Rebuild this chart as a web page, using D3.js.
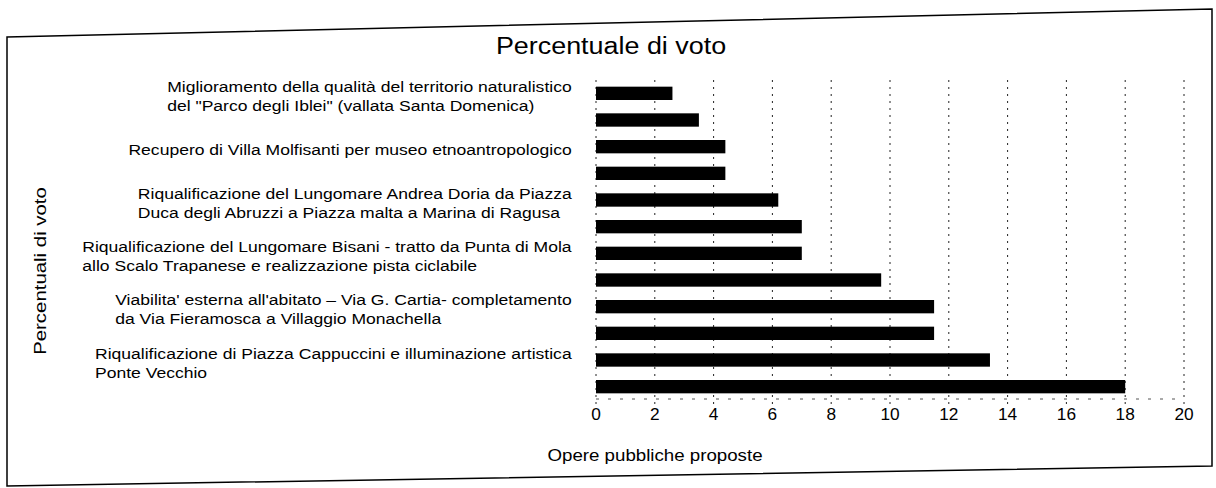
<!DOCTYPE html>
<html lang="it">
<head>
<meta charset="UTF-8">
<script src="https://d3js.org/d3.v7.min.js"></script>
<style>
  body { margin: 0; background: #fff; }
  svg text { font-family: "Liberation Sans", Arial, sans-serif; fill: #000; }
  .grid line { stroke: #222; stroke-width: 1; stroke-dasharray: 2,5; }
</style>
</head>
<body>
<svg id="chart" width="1216" height="488"></svg>
<script>
// progetti (ogni etichetta copre due barre)
const projects = [
  ['Miglioramento della qualità del territorio naturalistico', 'del "Parco degli Iblei" (vallata Santa Domenica)'],
  ['Recupero di Villa Molfisanti per museo etnoantropologico'],
  ['Riqualificazione del Lungomare Andrea Doria da Piazza', 'Duca degli Abruzzi a Piazza malta a Marina di Ragusa'],
  ['Riqualificazione del Lungomare Bisani - tratto da Punta di Mola', 'allo Scalo Trapanese e realizzazione pista ciclabile'],
  ["Viabilita' esterna all'abitato \u2013 Via G. Cartia- completamento", 'da Via Fieramosca a Villaggio Monachella'],
  ['Riqualificazione di Piazza Cappuccini e illuminazione artistica', 'Ponte Vecchio']
];
const barKeys = ['1a', '1b', '2a', '2b', '3a', '3b', '4a', '4b', '5a', '5b', '6a', '6b'];
const values = [2.6, 3.5, 4.4, 4.4, 6.2, 7.0, 7.0, 9.7, 11.5, 11.5, 13.4, 18.0];
const ticks = [0, 2, 4, 6, 8, 10, 12, 14, 16, 18, 20];

const svg = d3.select('#chart');
// la scansione originale e' "allargata" in orizzontale
const stretch = 1.17;

// cornice (leggermente storta come nella scansione)
svg.append('path')
  .attr('d', 'M7,37 L1212,9 L1212,466 L7,486 Z')
  .attr('fill', 'none')
  .attr('stroke', '#000')
  .attr('stroke-width', 1.5);

const x = d3.scaleLinear().domain([0, 20]).range([596, 1184]);
const y = d3.scaleBand().domain(barKeys).range([80, 400])
  .paddingInner(0.5).paddingOuter(0.25);

// griglia verticale
svg.append('g').attr('class', 'grid')
  .selectAll('line').data(ticks).enter().append('line')
  .attr('x1', d => x(d)).attr('x2', d => x(d))
  .attr('y1', 80).attr('y2', 405);

svg.append('line')
  .attr('x1', x(0)).attr('x2', x(20))
  .attr('y1', 399).attr('y2', 399)
  .attr('stroke', '#555').attr('stroke-dasharray', '3,9');

// barre
svg.append('g').selectAll('rect')
  .data(values).enter().append('rect')
  .attr('x', x(0))
  .attr('y', (d, i) => y(barKeys[i]))
  .attr('width', d => x(d) - x(0))
  .attr('height', y.bandwidth())
  .attr('fill', '#000');

// etichette asse x
svg.append('g').selectAll('text')
  .data(ticks).enter().append('text')
  .attr('transform', d => `translate(${x(d)},420) scale(1.08,1)`)
  .attr('text-anchor', 'middle')
  .style('font-size', '16px')
  .text(d => d);

// etichette progetti: blocco allineato a sinistra, bordo destro a 572
const labelGroup = svg.append('g');
projects.forEach((lines, i) => {
  const cy = y(barKeys[i * 2]) + y.bandwidth() / 2 + 3;
  const g = labelGroup.append('g');
  const lineH = 19;
  const top = cy - (lines.length - 1) * lineH / 2;
  const texts = lines.map((t, j) => g.append('text')
    .attr('x', 0)
    .attr('y', top + j * lineH)
    .attr('dy', '0.35em')
    .style('font-size', '15px')
    .text(t));
  const w = d3.max(texts, t => t.node().getComputedTextLength()) * stretch;
  g.attr('transform', `translate(${572 - w},0) scale(${stretch},1)`);
});

// titoli
svg.append('text')
  .attr('transform', `translate(611,54) scale(${stretch},1)`)
  .attr('text-anchor', 'middle')
  .style('font-size', '23px')
  .text('Percentuale di voto');

svg.append('text')
  .attr('transform', 'translate(655,461) scale(1.1,1)')
  .attr('text-anchor', 'middle')
  .style('font-size', '17px')
  .text('Opere pubbliche proposte');

svg.append('text')
  .attr('transform', 'translate(46,271) rotate(-90) scale(1.2,1)')
  .attr('text-anchor', 'middle')
  .style('font-size', '17px')
  .text('Percentuali di voto');
</script>
</body>
</html>
